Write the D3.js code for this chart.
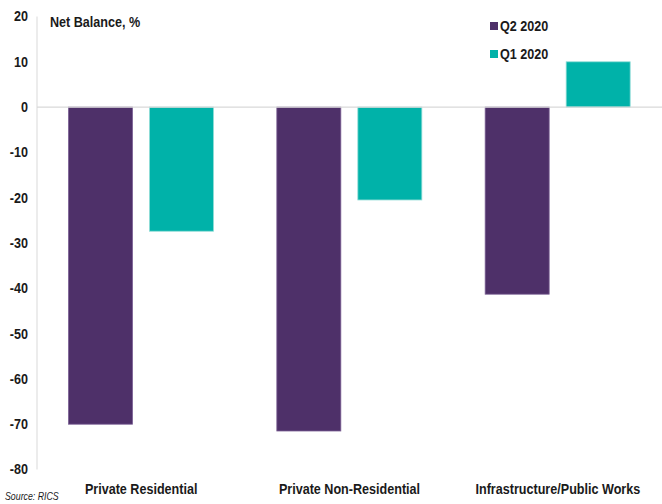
<!DOCTYPE html>
<html>
<head>
<meta charset="utf-8">
<script src="https://cdn.jsdelivr.net/npm/d3@7"></script>
<style>
  html, body { margin: 0; padding: 0; background: #fff; }
  svg { display: block; }
  text { font-family: "Liberation Sans", Arial, sans-serif; fill: #1a1a1a; }
</style>
</head>
<body>
<svg id="chart" width="662" height="504"></svg>
<script>
// Net balance by sector, Q2 2020 vs Q1 2020
const categories = ["Private Residential", "Private Non-Residential", "Infrastructure/Public Works"];
const seriesNames = ["Q2 2020", "Q1 2020"];
const q2Values = [-70, -71.5, -41.3];
const q1Values = [-27.4, -20.5, 10];
const yTicks = [20, 10, 0, -10, -20, -30, -40, -50, -60, -70, -80];
const colors = ["#4e3069", "#00b2a9"];
const strokes = ["#7a5f94", "#8fdcd6"];

// narrow-looking bold text: horizontally condensed
const SQ = 0.9;

const svg = d3.select("#chart");

const x0 = d3.scaleBand().domain(categories).range([37, 662]).paddingInner(0).paddingOuter(0);
const x1 = d3.scaleBand().domain(seriesNames).range([31.5, 176.5]).paddingInner(0.21);
const y = d3.scaleLinear().domain([-80, 20]).range([469.5, 16.5]);

// y axis line
svg.append("line")
  .attr("x1", 37).attr("x2", 37)
  .attr("y1", y(20)).attr("y2", y(-80))
  .attr("stroke", "#d9d9d9").attr("stroke-width", 1);

// y tick labels
const yAxis = d3.axisLeft(y).tickValues(yTicks).tickSize(0).tickPadding(0).tickFormat(d => String(d));
const gy = svg.append("g").attr("transform", `translate(28,0) scale(${SQ},1)`).call(yAxis);
gy.select(".domain").remove();
gy.selectAll("text")
  .attr("font-size", 14).attr("font-weight", "bold")
  .style("font-family", '"Liberation Sans", Arial, sans-serif')
  .attr("fill", "#1a1a1a");

// bars
const rows = categories.map((c, i) => ({ cat: c, vals: [q2Values[i], q1Values[i]] }));
const groups = svg.selectAll("g.grp").data(rows).enter().append("g")
  .attr("class", "grp")
  .attr("transform", d => `translate(${x0(d.cat)},0)`);
groups.selectAll("rect").data(d => d.vals.map((v, j) => ({ v, s: seriesNames[j], j })))
  .enter().append("rect")
  .attr("x", d => x1(d.s))
  .attr("width", x1.bandwidth())
  .attr("y", d => y(Math.max(0, d.v)))
  .attr("height", d => Math.abs(y(d.v) - y(0)))
  .attr("fill", d => colors[d.j])
  .attr("stroke", d => strokes[d.j])
  .attr("stroke-width", 0.8);

// zero line
svg.append("line")
  .attr("x1", 37).attr("x2", 662)
  .attr("y1", y(0)).attr("y2", y(0))
  .attr("stroke", "#d9d9d9").attr("stroke-width", 1.2);

// category labels
svg.selectAll("g.cat").data(categories).enter().append("g")
  .attr("class", "cat")
  .attr("transform", d => `translate(${x0(d) + x0.bandwidth() / 2},494) scale(${SQ},1)`)
  .append("text")
  .attr("text-anchor", "middle")
  .attr("font-size", 14).attr("font-weight", "bold")
  .text(d => d);

// title
svg.append("g").attr("transform", `translate(50,27) scale(${SQ},1)`)
  .append("text")
  .attr("font-size", 14).attr("font-weight", "bold")
  .text("Net Balance, %");

// legend
const leg = svg.selectAll("g.leg").data(seriesNames).enter().append("g")
  .attr("class", "leg")
  .attr("transform", (d, i) => `translate(490,${22 + i * 28})`);
leg.append("rect").attr("width", 8).attr("height", 8).attr("fill", (d, i) => colors[i]);
leg.append("g").attr("transform", `translate(10,9) scale(${SQ},1)`)
  .append("text")
  .attr("font-size", 14).attr("font-weight", "bold")
  .text(d => d);

// source note
svg.append("g").attr("transform", `translate(5,500) scale(0.88,1)`)
  .append("text")
  .attr("font-size", 10).attr("font-style", "italic")
  .text("Source: RICS");
</script>
</body>
</html>
